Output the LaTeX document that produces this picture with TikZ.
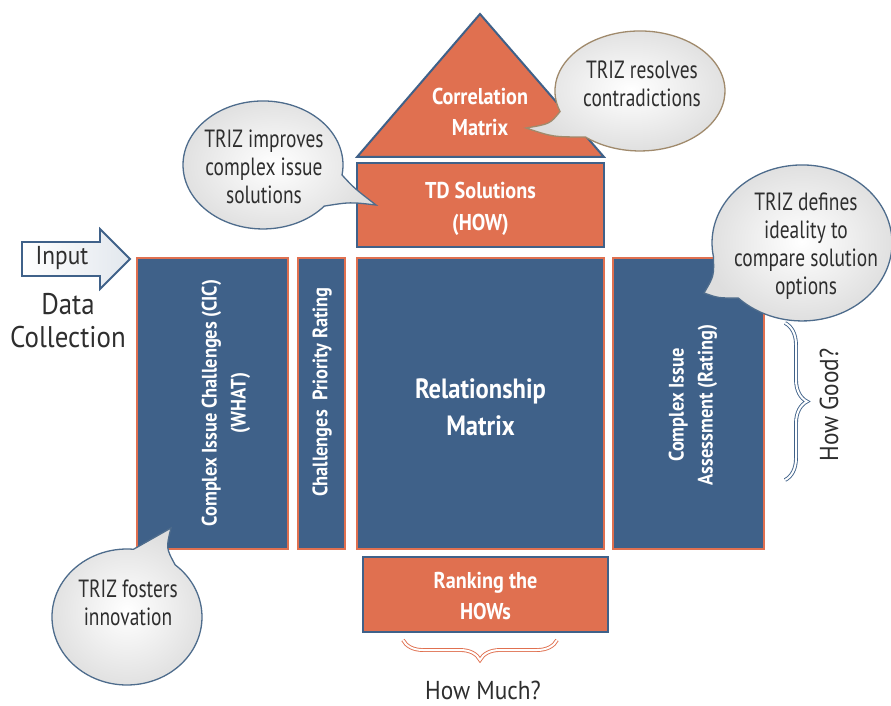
\documentclass[tikz,border=0pt]{standalone}
\usepackage{fontspec}
\setmainfont{PT Sans}[FakeStretch=0.78,BoldFeatures={FakeStretch=0.88}]
\newfontfamily\widefont{PT Sans}[FakeStretch=0.9]
\usetikzlibrary{decorations.pathreplacing}
\definecolor{qblue}{HTML}{3F6189}
\definecolor{qorange}{HTML}{E07050}
\definecolor{bubline}{HTML}{4E6C8C}
\definecolor{bubbrown}{HTML}{A08A6C}
\definecolor{txt}{HTML}{2E2E2E}
\begin{document}
\begin{tikzpicture}[x=1bp,y=-1bp,
  bluebox/.style={fill=qblue,draw=qorange,line width=1.6bp,inner sep=0pt},
  orangebox/.style={fill=qorange,draw=qblue,line width=2bp,inner sep=0pt},
  wtext/.style={text=white,align=center,font=\bfseries\fontsize{23}{32}\selectfont,inner sep=0pt},
  rtext/.style={wtext,rotate=90,font=\bfseries\fontsize{21}{29}\selectfont},
  bubble/.style={inner color=white,outer color=black!13,draw=bubline,line width=1.3bp},
  btext/.style={text=txt,align=center,font=\fontsize{25}{28}\selectfont,inner sep=0pt},
  ktext/.style={text=txt,align=center,font=\widefont\fontsize{26}{30}\selectfont,inner sep=0pt},
  bracebl/.style={decorate,decoration={brace,amplitude=22bp},draw=qblue,line width=0.9bp,double=white,double distance=2bp},
  braceor/.style={decorate,decoration={brace,amplitude=20bp},draw=qorange,line width=0.9bp,double=white,double distance=2bp}]
\useasboundingbox (0,0) rectangle (891,706);

% roof
\path[orangebox] (480,14) -- (604,157) -- (357,157) -- cycle;
\node[wtext] (corr) at (480,112) {Correlation\\Matrix};
\node[orangebox,minimum width=247bp,minimum height=84bp] (td) at (480.5,205) {};
\node[wtext] (tdt) at (480.5,209) {TD Solutions\\(HOW)};

% body
\node[bluebox,minimum width=151bp,minimum height=291bp] (cic) at (212.5,403.5) {};
\node[rtext] (cict) at (226,403) {Complex Issue Challenges (CIC)\\(WHAT)};
\node[bluebox,minimum width=47bp,minimum height=291bp] (cpr) at (321.5,403.5) {};
\node[rtext] (cprt) at (322,392) {Challenges\ \ Priority Rating};
\node[bluebox,minimum width=247bp,minimum height=291bp] (rm) at (480.5,403.5) {};
\node[wtext,font=\bfseries\fontsize{28}{37}\selectfont] (rmt) at (480.5,407) {Relationship\\Matrix};
\node[bluebox,minimum width=151bp,minimum height=291bp] (cia) at (688.5,403.5) {};
\node[rtext] (ciat) at (693,405) {Complex Issue\\Assessment (Rating)};

% ranking
\node[orangebox,minimum width=245bp,minimum height=75bp] (rank) at (485.5,594) {};
\node[wtext] (rankt) at (485.5,596) {Ranking the\\HOWs};

% braces
\coordinate (bl) at (403,640);
\coordinate (br) at (557,640);
\draw[braceor] (br) -- (bl);
\node[ktext] (much) at (483,690) {How Much?};
\coordinate (rt) at (785,323);
\coordinate (rb) at (785,480);
\draw[bracebl] (rt) -- (rb);
\node[ktext,rotate=90] (good) at (829,405) {How Good?};

% input arrow
\shadedraw[left color=white,right color=qblue!15,draw=qblue,line width=1.8bp]
  (22,242) -- (100,242) -- (100,229) -- (130,259) -- (100,289) -- (100,276) -- (22,276) -- cycle;
\node[ktext] (input) at (62,258) {Input};
\node[ktext,font=\widefont\fontsize{30}{33}\selectfont] (data) at (68,321) {Data\\Collection};

% bubbles
\shadedraw[bubble] (324.3,206.1) arc[start angle=40,end angle=369,x radius=80,y radius=64]
  .. controls (354,188) .. (376,205) .. controls (350,202) .. (324.3,206.1) -- cycle;
\node[btext] (b1) at (264,167) {TRIZ improves\\complex issue\\solutions};

\shadedraw[bubble,draw=bubbrown] (560.1,111.5) arc[start angle=160,end angle=490,x radius=85,y radius=60]
  .. controls (553,137) .. (526,128) .. controls (550,124) .. (560.1,111.5) -- cycle;
\node[btext] (b2) at (642,84) {TRIZ resolves\\contradictions};

\shadedraw[bubble] (713.4,256.5) arc[start angle=170,end angle=495,x radius=90,y radius=78]
  .. controls (718,298) .. (704,293) .. controls (714,276) .. (713.4,256.5) -- cycle;
\node[btext] (b3) at (806,246) {TRIZ defines\\ideality to\\compare solution\\options};

\shadedraw[bubble] (175.2,564.9) arc[start angle=-50,end angle=275,x radius=75,y radius=68]
  .. controls (152,538) .. (171,528) .. controls (166,548) .. (175.2,564.9) -- cycle;
\node[btext] (b4) at (128,603) {TRIZ fosters\\innovation};
\end{tikzpicture}
\end{document}
